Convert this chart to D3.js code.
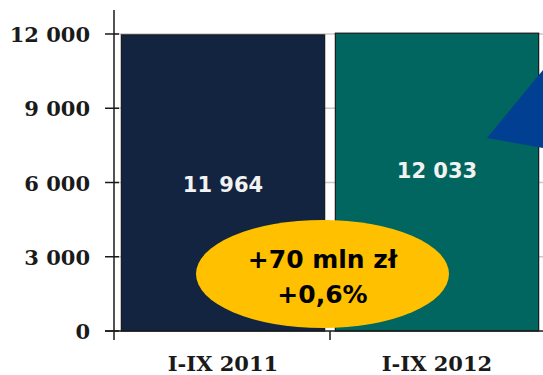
<!DOCTYPE html>
<html>
<head>
<meta charset="utf-8">
<script src="https://cdnjs.cloudflare.com/ajax/libs/d3/7.8.5/d3.min.js"></script>
<style>
  html, body { margin: 0; padding: 0; background: #fff; }
  svg { display: block; }
</style>
</head>
<body>
<svg id="chart" width="543" height="375"></svg>
<script>
// Revenue, January–September, in million zł
const categories = ["I-IX 2011", "I-IX 2012"];
const values = [11964, 12033];
const valueLabels = ["11 964", "12 033"];
const barColors = ["#12243F", "#00665F"];
const yTicks = [0, 3000, 6000, 9000, 12000];
const yTickLabels = ["0", "3 000", "6 000", "9 000", "12 000"];
const changeLines = ["+70 mln zł", "+0,6%"];

const svg = d3.select("#chart");

const axisX = 114, baseY = 331;
const y = d3.scaleLinear().domain([0, 12000]).range([baseY, 34]);
const x = d3.scaleBand().domain(categories).range([116, 544])
  .paddingInner(0.05).paddingOuter(0.025);

// gridlines
svg.append("g").selectAll("line").data(yTicks.filter(d => d > 0)).join("line")
  .attr("x1", axisX).attr("x2", 543)
  .attr("y1", d => y(d)).attr("y2", d => y(d))
  .attr("stroke", "#c8c8c8").attr("stroke-width", 1.5);

// bars
svg.append("g").selectAll("rect").data(values).join("rect")
  .attr("x", (d, i) => x(categories[i]))
  .attr("y", d => y(d))
  .attr("width", x.bandwidth())
  .attr("height", d => baseY - y(d))
  .attr("fill", (d, i) => barColors[i])
  .attr("stroke", "#1a1a1a").attr("stroke-width", 1.2);

// value labels inside bars
const labelY = [192, 178];
svg.append("g").selectAll("text").data(valueLabels).join("text")
  .attr("x", (d, i) => x(categories[i]) + x.bandwidth() / 2)
  .attr("y", (d, i) => labelY[i])
  .attr("text-anchor", "middle")
  .attr("font-family", "'DejaVu Sans', Verdana, sans-serif")
  .attr("font-weight", "bold")
  .attr("font-size", 21)
  .attr("fill", "#f2f2f2")
  .text(d => d);

// y axis
svg.append("line").attr("x1", axisX).attr("x2", axisX).attr("y1", 10).attr("y2", 340)
  .attr("stroke", "#1a1a1a").attr("stroke-width", 1.5);
svg.append("g").selectAll("line").data(yTicks).join("line")
  .attr("x1", 105).attr("x2", 119)
  .attr("y1", d => y(d)).attr("y2", d => y(d))
  .attr("stroke", "#1a1a1a").attr("stroke-width", 1.5);
svg.append("g").selectAll("text").data(yTicks).join("text")
  .attr("x", 90).attr("y", d => y(d) + 8)
  .attr("text-anchor", "end")
  .attr("font-family", "'DejaVu Serif', serif")
  .attr("font-weight", "bold").attr("font-size", 21)
  .attr("fill", "#1a1a1a")
  .text((d, i) => yTickLabels[i]);

// x axis
svg.append("line").attr("x1", 105).attr("x2", 543).attr("y1", baseY).attr("y2", baseY)
  .attr("stroke", "#1a1a1a").attr("stroke-width", 1.5);
const between = x(categories[1]) - x.step() * x.paddingInner() / 2;
svg.append("line").attr("x1", between).attr("x2", between).attr("y1", baseY).attr("y2", 340)
  .attr("stroke", "#1a1a1a").attr("stroke-width", 1.5);
svg.append("g").selectAll("text").data(categories).join("text")
  .attr("x", d => x(d) + x.bandwidth() / 2).attr("y", 371)
  .attr("text-anchor", "middle")
  .attr("font-family", "'DejaVu Serif', serif")
  .attr("font-weight", "bold").attr("font-size", 21)
  .attr("fill", "#1a1a1a")
  .text(d => d);

// growth arrow head
svg.append("polygon")
  .attr("points", "543,70 487,138 543,148")
  .attr("fill", "#003F91");

// change callout
svg.append("ellipse")
  .attr("cx", 322.5).attr("cy", 274).attr("rx", 126.5).attr("ry", 54)
  .attr("fill", "#FFC000");
svg.append("g").selectAll("text").data(changeLines).join("text")
  .attr("x", 322.5).attr("y", (d, i) => 268 + i * 35)
  .attr("text-anchor", "middle")
  .attr("font-family", "'DejaVu Sans', Verdana, sans-serif")
  .attr("font-weight", "bold").attr("font-size", 25)
  .attr("fill", "#000")
  .text(d => d);
</script>
</body>
</html>
